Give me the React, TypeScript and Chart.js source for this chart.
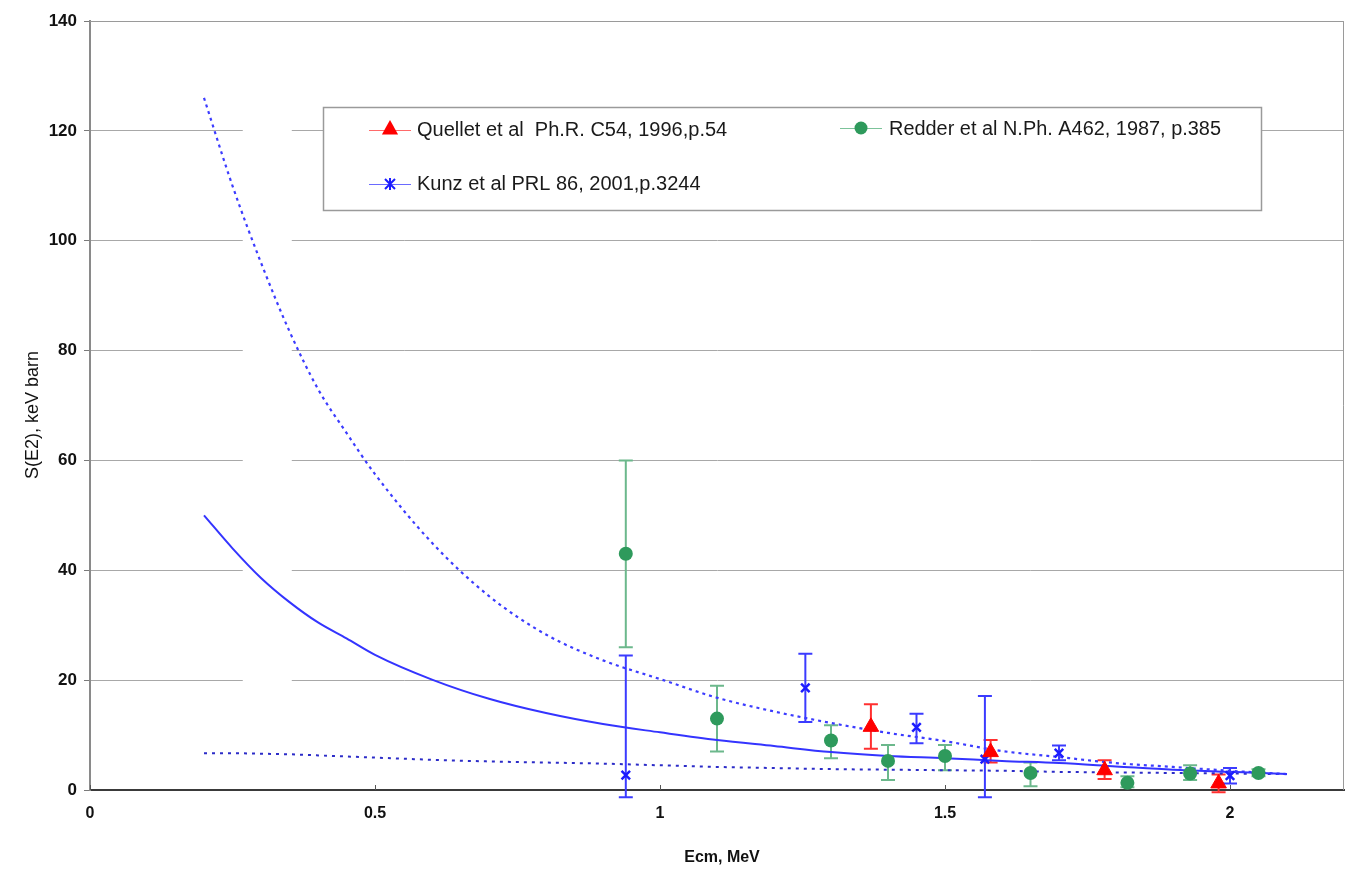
import { useEffect, useRef } from "react";
import { Chart, registerables } from "chart.js";

Chart.register(...registerables);

const FONT = '"Liberation Sans", Arial, Helvetica, sans-serif';

// Theory curves
const theoryE = [0.2, 0.25, 0.3, 0.35, 0.4, 0.45, 0.5, 0.6, 0.7, 0.8, 0.9, 1.0, 1.1, 1.2, 1.3, 1.4, 1.5, 1.6, 1.7, 1.8, 1.9, 2.0, 2.1];
const theorySolid = [50, 44, 38.6, 34.2, 30.5, 27.6, 24.6, 20.1, 16.6, 14.0, 12.0, 10.5, 9.1, 8.0, 6.9, 6.2, 5.8, 5.3, 4.9, 4.3, 3.7, 3.3, 2.9];
const theoryUpper = [126, 110, 96, 83.5, 73, 65, 57.5, 45, 35.3, 28.3, 23.6, 20.2, 16.8, 14.3, 12.2, 10.4, 8.9, 7.1, 6.0, 4.9, 4.2, 3.5, 2.9];
const theoryLower = [6.7, 6.7, 6.6, 6.5, 6.3, 6.1, 5.9, 5.5, 5.2, 5.0, 4.8, 4.5, 4.2, 4.0, 3.8, 3.7, 3.6, 3.5, 3.3, 3.2, 3.1, 3.0, 2.9];

// Quellet et al
const quelletE = [1.37, 1.58, 1.78, 1.98];
const quelletS = [11.5, 6.9, 3.6, 1.2];
const quelletHi = [15.6, 9.1, 5.4, 2.8];
const quelletLo = [7.5, 5.0, 2.0, -0.4];

// Redder et al
const redderE = [0.94, 1.1, 1.3, 1.4, 1.5, 1.65, 1.82, 1.93, 2.05];
const redderS = [43, 13, 9, 5.3, 6.2, 3.1, 1.3, 3.0, 3.1];
const redderHi = [60, 19, 11.8, 8.2, 8.2, 5.0, 2.5, 4.5, 3.8];
const redderLo = [26, 7, 5.8, 1.8, 3.6, 0.7, 0.5, 1.8, 2.5];

// Kunz et al
const kunzE = [0.94, 1.255, 1.45, 1.57, 1.7, 2.0];
const kunzS = [2.7, 18.6, 11.4, 5.6, 6.7, 2.6];
const kunzHi = [24.5, 24.8, 13.9, 17.1, 8.1, 4.0];
const kunzLo = [-1.3, 12.4, 8.5, -1.3, 5.4, 1.2];

const xTicks = [0, 0.5, 1, 1.5, 2];
const yTicks = [0, 20, 40, 60, 80, 100, 120, 140];

const legendLabels = [
  "Quellet et al  Ph.R. C54, 1996,p.54",
  "Redder et al N.Ph. A462, 1987, p.385",
  "Kunz et al PRL 86, 2001,p.3244",
];

const pts = (xs: number[], ys: number[]) => xs.map((x, i) => ({ x, y: ys[i] }));

const RED = "#ff0000";
const GREEN = "#2e9a5c";
const GREEN_ERR = "#6cb88c";
const BLUE = "#1c1cff";
const BLUE_ERR = "#3b3bff";

function drawTriangle(ctx: CanvasRenderingContext2D, x: number, y: number, r: number, color: string) {
  ctx.beginPath();
  ctx.moveTo(x, y - r);
  ctx.lineTo(x + r * 0.9, y + r * 0.6);
  ctx.lineTo(x - r * 0.9, y + r * 0.6);
  ctx.closePath();
  ctx.fillStyle = color;
  ctx.fill();
}

const customPlugin = {
  id: "custom",
  beforeDatasetsDraw(chart: any) {
    const { ctx, chartArea, scales } = chart;
    const xs = scales.x;
    const ys = scales.y;
    ctx.save();
    // gap in gridlines
    const g0 = xs.getPixelForValue(0.268);
    const g1 = xs.getPixelForValue(0.354);
    ctx.fillStyle = "#ffffff";
    ctx.fillRect(g0, chartArea.top + 2, g1 - g0, chartArea.bottom - chartArea.top - 4);
    // top & right border
    ctx.strokeStyle = "#9a9a9a";
    ctx.lineWidth = 1;
    ctx.beginPath();
    ctx.moveTo(chartArea.left, chartArea.top + 0.5);
    ctx.lineTo(chartArea.right - 0.5, chartArea.top + 0.5);
    ctx.lineTo(chartArea.right - 0.5, chartArea.bottom);
    ctx.stroke();
    // x tick marks (inside)
    ctx.strokeStyle = "#555";
    ctx.lineWidth = 1;
    xTicks.forEach((v) => {
      const px = Math.round(xs.getPixelForValue(v)) + 0.5;
      ctx.beginPath();
      ctx.moveTo(px, chartArea.bottom);
      ctx.lineTo(px, chartArea.bottom - 5);
      ctx.stroke();
    });
    // error bars
    chart.data.datasets.forEach((ds: any) => {
      if (!ds.errHi) return;
      ctx.strokeStyle = ds.errColor;
      ctx.lineWidth = 2;
      ds.data.forEach((p: any, i: number) => {
        const px = xs.getPixelForValue(p.x);
        const hi = ys.getPixelForValue(ds.errHi[i]);
        const lo = ys.getPixelForValue(ds.errLo[i]);
        const cap = 7;
        ctx.beginPath();
        ctx.moveTo(px, hi);
        ctx.lineTo(px, lo);
        ctx.moveTo(px - cap, hi);
        ctx.lineTo(px + cap, hi);
        ctx.moveTo(px - cap, lo);
        ctx.lineTo(px + cap, lo);
        ctx.stroke();
      });
    });
    ctx.restore();
  },
  afterDraw(chart: any) {
    const { ctx } = chart;
    ctx.save();
    // axis titles
    ctx.fillStyle = "#111";
    ctx.font = `bold 16px ${FONT}`;
    ctx.textAlign = "center";
    ctx.textBaseline = "middle";
    ctx.fillText("Ecm, MeV", 722, 858);
    ctx.save();
    ctx.translate(33, 415);
    ctx.rotate(-Math.PI / 2);
    ctx.font = `18px ${FONT}`;
    ctx.fillText("S(E2), keV barn", 0, 0);
    ctx.restore();

    // legend
    const bx = 323, by = 107, bw = 938, bh = 103;
    ctx.fillStyle = "#ffffff";
    ctx.fillRect(bx, by, bw, bh);
    ctx.strokeStyle = "#9a9a9a";
    ctx.lineWidth = 1.5;
    ctx.strokeRect(bx + 0.5, by + 0.5, bw, bh);

    ctx.font = `20px ${FONT}`;
    ctx.textAlign = "left";
    ctx.textBaseline = "middle";

    // Quellet
    let y = 130;
    ctx.strokeStyle = "#ff6a6a";
    ctx.lineWidth = 1;
    ctx.beginPath();
    ctx.moveTo(369, y + 0.5);
    ctx.lineTo(411, y + 0.5);
    ctx.stroke();
    drawTriangle(ctx, 390, y - 1, 9, RED);
    ctx.fillStyle = "#1a1a1a";
    ctx.fillText(legendLabels[0], 417, y, 312);

    // Redder
    y = 128;
    ctx.strokeStyle = "#7cc39a";
    ctx.beginPath();
    ctx.moveTo(840, y + 0.5);
    ctx.lineTo(882, y + 0.5);
    ctx.stroke();
    ctx.fillStyle = GREEN;
    ctx.beginPath();
    ctx.arc(861, y, 6.5, 0, Math.PI * 2);
    ctx.fill();
    ctx.fillStyle = "#1a1a1a";
    ctx.fillText(legendLabels[1], 889, y + 1, 332);

    // Kunz
    y = 184;
    ctx.strokeStyle = "#6a6aff";
    ctx.beginPath();
    ctx.moveTo(369, y + 0.5);
    ctx.lineTo(411, y + 0.5);
    ctx.stroke();
    ctx.strokeStyle = BLUE;
    ctx.lineWidth = 2;
    ctx.beginPath();
    ctx.moveTo(385, y - 5); ctx.lineTo(395, y + 5);
    ctx.moveTo(395, y - 5); ctx.lineTo(385, y + 5);
    ctx.moveTo(390, y - 6); ctx.lineTo(390, y + 6);
    ctx.stroke();
    ctx.fillStyle = "#1a1a1a";
    ctx.fillText(legendLabels[2], 417, y, 288);

    ctx.restore();
  },
};

export default function App() {
  const ref = useRef<HTMLCanvasElement>(null);
  useEffect(() => {
    document.body.style.margin = "0";
    const chart = new Chart(ref.current as HTMLCanvasElement, {
      type: "scatter",
      data: {
        datasets: [
          {
            label: legendLabels[0],
            data: pts(quelletE, quelletS),
            pointStyle: "triangle",
            pointRadius: 9,
            backgroundColor: RED,
            borderColor: RED,
            borderWidth: 1,
            showLine: false,
            order: 0,
            errHi: quelletHi,
            errLo: quelletLo,
            errColor: "#ff3030",
          } as any,
          {
            label: legendLabels[1],
            data: pts(redderE, redderS),
            pointStyle: "circle",
            pointRadius: 7,
            backgroundColor: GREEN,
            borderColor: GREEN,
            borderWidth: 0,
            showLine: false,
            order: 1,
            errHi: redderHi,
            errLo: redderLo,
            errColor: GREEN_ERR,
          } as any,
          {
            label: legendLabels[2],
            data: pts(kunzE, kunzS),
            pointStyle: "crossRot",
            pointRadius: 6,
            backgroundColor: BLUE,
            borderColor: BLUE,
            borderWidth: 2.5,
            showLine: false,
            order: 2,
            errHi: kunzHi,
            errLo: kunzLo,
            errColor: BLUE_ERR,
          } as any,
          {
            label: "theory",
            data: pts(theoryE, theorySolid),
            showLine: true,
            pointRadius: 0,
            borderColor: "#3434ff",
            borderWidth: 2,
            cubicInterpolationMode: "monotone",
            order: 3,
          } as any,
          {
            label: "upper",
            data: pts(theoryE, theoryUpper),
            showLine: true,
            pointRadius: 0,
            borderColor: "#3c3cff",
            borderWidth: 2.2,
            borderDash: [3, 4],
            cubicInterpolationMode: "monotone",
            order: 4,
          } as any,
          {
            label: "lower",
            data: pts(theoryE, theoryLower),
            showLine: true,
            pointRadius: 0,
            borderColor: "#2c2cc8",
            borderWidth: 2,
            borderDash: [3, 5],
            cubicInterpolationMode: "monotone",
            order: 5,
          } as any,
        ],
      },
      options: {
        animation: false,
        responsive: false,
        layout: { padding: { left: 0, top: 21, right: 6, bottom: 0 } },
        plugins: {
          legend: { display: false },
          tooltip: { enabled: false },
        },
        scales: {
          x: {
            type: "linear",
            min: 0,
            max: 2.2,
            afterBuildTicks: (s: any) => {
              s.ticks = xTicks.map((v) => ({ value: v }));
            },
            afterFit: (s: any) => {
              s.height = 81;
            },
            grid: { display: false, drawTicks: false },
            border: { display: true, color: "#3a3a3a", width: 2 },
            ticks: {
              padding: 14,
              color: "#111",
              font: { family: FONT, size: 16, weight: "bold" },
              callback: (v: any) => String(v),
            },
          },
          y: {
            type: "linear",
            min: 0,
            max: 140,
            afterBuildTicks: (s: any) => {
              s.ticks = yTicks.map((v) => ({ value: v }));
            },
            afterFit: (s: any) => {
              s.width = 90;
            },
            grid: {
              color: "#a8a8a8",
              lineWidth: 1,
              drawTicks: true,
              tickLength: 6,
              tickColor: "#7a7a7a",
            },
            border: { display: true, color: "#8a8a8a", width: 2 },
            ticks: {
              padding: 7,
              color: "#111",
              font: { family: FONT, size: 17, weight: "bold" },
            },
          },
        },
      },
      plugins: [customPlugin],
    } as any);
    return () => chart.destroy();
  }, []);
  return (
    <div style={{ width: 1354, height: 871 }}>
      <canvas ref={ref} width={1354} height={871} style={{ display: "block" }} />
    </div>
  );
}
